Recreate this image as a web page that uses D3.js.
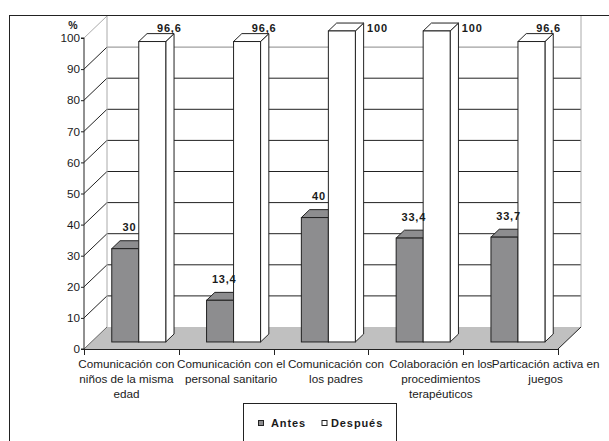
<!DOCTYPE html>
<html>
<head>
<meta charset="utf-8">
<script src="https://cdn.jsdelivr.net/npm/d3@7"></script>
<style>
  html, body { margin: 0; padding: 0; background: #fff; }
  svg { display: block; }
  text { font-family: "Liberation Sans", Arial, sans-serif; fill: #1a1a1a; }
</style>
</head>
<body>
<svg id="chart" width="609" height="441"></svg>
<script>
// Categories (wrapped label lines) and the two series
const categories = [
  "Comunicación con niños de la misma edad",
  "Comunicación con el personal sanitario",
  "Comunicación con los padres",
  "Colaboración en los procedimientos terapéuticos",
  "Particación activa en juegos"
];
const categoryLines = [
  ["Comunicación con", "niños de la misma", "edad"],
  ["Comunicación con el", "personal sanitario"],
  ["Comunicación con", "los padres"],
  ["Colaboración en los", "procedimientos", "terapéuticos"],
  ["Particación activa en", "juegos"]
];
const seriesNames = ["Antes", "Después"];
const antes   = [30, 13.4, 40, 33.4, 33.7];
const despues = [96.6, 96.6, 100, 100, 96.6];
const yTicks  = [0, 10, 20, 30, 40, 50, 60, 70, 80, 90, 100];

const svg = d3.select("#chart");

// Plot geometry (front plane of the 3D box and its depth offset)
const x0 = 84, x1 = 558, yBottom = 349, yTop = 38;
const depthX = 23, depthY = -22;
const barFront = 0.32, barBack = 0.68;       // bar slab within the depth
const fill = { Antes: "#8d8d8f", "Después": "#ffffff" };

const y = d3.scaleLinear().domain([0, 100]).range([yBottom, yTop]);
const x = d3.scaleBand().domain(categories).range([x0, x1]);
const pair = d3.scaleBand().domain(seriesNames).range([0, 54]);
const labelX = d3.scaleBand().domain(categories).range([74, 598]);

const fmt = v => String(v).replace(".", ",");

// Outer chart frame
svg.append("rect")
  .attr("x", 9.5).attr("y", 15.5).attr("width", 640).attr("height", 460)
  .attr("fill", "none").attr("stroke", "#222").attr("stroke-width", 1);

// Floor
svg.append("path")
  .attr("d", `M${x0},${yBottom} L${x1},${yBottom} L${x1 + depthX},${yBottom + depthY} L${x0 + depthX},${yBottom + depthY} Z`)
  .attr("fill", "#c0c0c0").attr("stroke", "none");
svg.append("line")
  .attr("x1", x0).attr("y1", yBottom).attr("x2", x0 + depthX).attr("y2", yBottom + depthY)
  .attr("stroke", "#666");
svg.append("line")
  .attr("x1", x1).attr("y1", yBottom).attr("x2", x1 + depthX).attr("y2", yBottom + depthY)
  .attr("stroke", "#222");

// Back wall gridlines and left wall diagonals
const grid = svg.append("g");
yTicks.filter(t => t > 0).forEach(t => {
  const col = t === 100 ? "#aaa" : (t === 90 ? "#888" : "#222");
  grid.append("line")
    .attr("x1", x0).attr("y1", y(t))
    .attr("x2", x0 + depthX).attr("y2", y(t) + depthY)
    .attr("stroke", t === 100 ? "#aaa" : "#222");
  if (t < 100) {
    grid.append("line")
      .attr("x1", x0 + depthX).attr("y1", y(t) + depthY)
      .attr("x2", x1 + depthX).attr("y2", y(t) + depthY)
      .attr("stroke", col);
  }
});
// Back wall edges
svg.append("line")
  .attr("x1", x0 + depthX).attr("y1", y(100) + depthY)
  .attr("x2", x0 + depthX).attr("y2", yBottom + depthY)
  .attr("stroke", "#aaa");
svg.append("line")
  .attr("x1", x1 + depthX).attr("y1", y(100) + depthY)
  .attr("x2", x1 + depthX).attr("y2", yBottom + depthY)
  .attr("stroke", "#aaa");

// Y axis
const yAxis = d3.axisLeft(y).tickValues(yTicks).tickSize(3).tickPadding(1);
const gy = svg.append("g").attr("transform", `translate(${x0},0)`).call(yAxis);
gy.select(".domain").attr("stroke", "#222").attr("d", `M-3,${yTop}H0V${yBottom}H-3`);
gy.selectAll(".tick line").attr("stroke", "#222");
gy.selectAll(".tick text")
  .style("font-family", '"Liberation Sans", Arial, sans-serif')
  .style("font-size", "11.7px").attr("fill", "#1a1a1a");

svg.append("text")
  .attr("x", 73).attr("y", 29).attr("text-anchor", "middle")
  .style("font-size", "10.5px").style("font-weight", "bold")
  .text("%");

// X axis line and category ticks
svg.append("line")
  .attr("x1", x0).attr("y1", yBottom + 0.5).attr("x2", x1).attr("y2", yBottom + 0.5)
  .attr("stroke", "#222");
const catTicks = categories.map(c => x(c)).concat([x1]);
svg.append("g").selectAll("line").data(catTicks).join("line")
  .attr("x1", d => Math.round(d) + 0.5).attr("x2", d => Math.round(d) + 0.5)
  .attr("y1", yBottom).attr("y2", yBottom + 6)
  .attr("stroke", "#222");

// 3D bars
const bars = svg.append("g");
const fdx = depthX * barFront, fdy = depthY * barFront;
const bdx = depthX * barBack,  bdy = depthY * barBack;
const sdx = bdx - fdx, sdy = bdy - fdy;

const barData = [];
categories.forEach((c, i) => {
  [["Antes", antes[i]], ["Después", despues[i]]].forEach(([s, v]) => {
    const left = x(c) + (x.bandwidth() - 54) / 2 + pair(s) + fdx;
    const w = pair.bandwidth();
    const top = y(v) + fdy;
    const bottom = y(0) + fdy;
    barData.push({ c, s, v, left, w, top, bottom });
  });
});

barData.forEach(d => {
  const g = bars.append("g");
  const col = fill[d.s];
  // side face
  g.append("path")
    .attr("d", `M${d.left + d.w},${d.top} L${d.left + d.w + sdx},${d.top + sdy} L${d.left + d.w + sdx},${d.bottom + sdy} L${d.left + d.w},${d.bottom} Z`)
    .attr("fill", d.s === "Antes" ? "#6e6e70" : "#ffffff")
    .attr("stroke", "#222").attr("stroke-linejoin", "round");
  // top face
  g.append("path")
    .attr("d", `M${d.left},${d.top} L${d.left + sdx},${d.top + sdy} L${d.left + d.w + sdx},${d.top + sdy} L${d.left + d.w},${d.top} Z`)
    .attr("fill", col).attr("stroke", "#222").attr("stroke-linejoin", "round");
  // front face
  g.append("rect")
    .attr("x", d.left).attr("y", d.top)
    .attr("width", d.w).attr("height", d.bottom - d.top)
    .attr("fill", col).attr("stroke", "#222");
});

// Value labels above each bar; labels that would run over the top are
// pulled down and pushed to the right of the bar.
const minBaseline = 31.5;
barData.forEach(d => {
  let cx = d.left + d.w / 2 + sdx / 2;
  let by = d.top + sdy - 9.5;
  if (by < minBaseline) {
    const shift = minBaseline - by;
    by = minBaseline;
    cx += 1.75 * shift;
  }
  svg.append("text")
    .attr("x", cx).attr("y", by).attr("text-anchor", "middle")
    .style("font-size", "11px").style("font-weight", "bold")
    .style("letter-spacing", "0.8px")
    .text(fmt(d.v));
});

// Category labels
const catLabels = svg.append("g");
categories.forEach((c, i) => {
  const t = catLabels.append("text")
    .attr("text-anchor", "middle")
    .style("font-size", "11.7px");
  categoryLines[i].forEach((line, j) => {
    t.append("tspan")
      .attr("x", labelX(c) + labelX.bandwidth() / 2)
      .attr("y", 368 + j * 15)
      .text(line);
  });
});

// Legend
const lg = svg.append("g");
lg.append("rect")
  .attr("x", 243.5).attr("y", 403.5).attr("width", 153).attr("height", 60)
  .attr("fill", "#fff").attr("stroke", "#222");
const legendItems = [
  { name: seriesNames[0], sx: 258, tx: 271 },
  { name: seriesNames[1], sx: 321.5, tx: 331 }
];
legendItems.forEach(it => {
  lg.append("rect")
    .attr("x", it.sx + 0.5).attr("y", 420.5).attr("width", 5).attr("height", 5)
    .attr("fill", fill[it.name]).attr("stroke", "#222");
  lg.append("text")
    .attr("x", it.tx).attr("y", 426.5)
    .style("font-size", "11px").style("font-weight", "bold")
    .style("letter-spacing", "0.9px")
    .text(it.name);
});
</script>
</body>
</html>
